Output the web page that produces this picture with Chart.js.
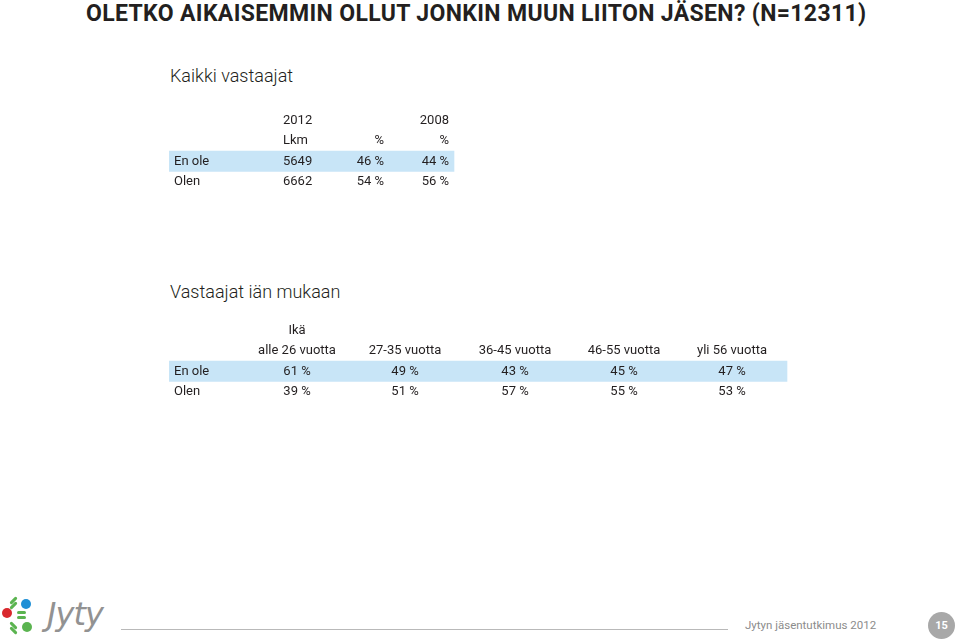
<!DOCTYPE html>
<html lang="fi">
<head>
<meta charset="utf-8">
<script src="https://cdn.jsdelivr.net/npm/chart.js@4/dist/chart.umd.min.js"></script>
<style>
  html, body { margin: 0; padding: 0; background: #fff; }
  body { width: 959px; height: 641px; position: relative; overflow: hidden; font-family: Roboto, 'Open Sans', sans-serif; color: #231f20; }
  .title { position: absolute; left: 86px; top: 0px; font-size: 23px; font-weight: 700; white-space: nowrap; letter-spacing: 0.35px; }
  .sub { position: absolute; left: 170px; font-size: 18px; font-weight: 300; }
  canvas { position: absolute; }
  .rule { position: absolute; left: 121px; top: 629px; width: 607px; height: 1px; background: #b9b9b9; }
  .foot { position: absolute; left: 745px; top: 618px; font-size: 11.5px; color: #8c8c8c; }
  .page { position: absolute; left: 928px; top: 612px; width: 27px; height: 27px; border-radius: 50%; background: #a8a8a8; color: #fff; font-size: 11px; font-weight: 700; text-align: center; line-height: 27px; }
  .dot { position: absolute; border-radius: 50%; }
  .logo { position: absolute; left: 47px; top: 595px; font-size: 32px; font-style: italic; color: #929292; font-family: 'DejaVu Sans', sans-serif; letter-spacing: -1px; }
  .bar { position: absolute; background: #5bb450; border-radius: 2px; }
</style>
</head>
<body>
<div class="title">OLETKO AIKAISEMMIN OLLUT JONKIN MUUN LIITON JÄSEN? (N=12311)</div>
<div class="sub" style="top:65px">Kaikki vastaajat</div>
<div class="sub" style="top:281px">Vastaajat iän mukaan</div>

<canvas id="allChart" width="290" height="82" style="left:169px; top:110px"></canvas>
<canvas id="ageChart" width="620" height="82" style="left:169px; top:320px"></canvas>

<!-- footer -->
<div class="dot" style="left:2px; top:608px; width:10px; height:10px; background:#d9282d"></div>
<div class="dot" style="left:21px; top:599px; width:10px; height:10px; background:#1e8fd6"></div>
<div class="dot" style="left:22px; top:622px; width:10px; height:10px; background:#5bb450"></div>
<div class="bar" style="left:9px; top:599px; width:9px; height:3px; transform:rotate(-45deg)"></div>
<div class="bar" style="left:9px; top:604px; width:9px; height:3px; transform:rotate(-45deg)"></div>
<div class="bar" style="left:9px; top:624px; width:9px; height:3px; transform:rotate(45deg)"></div>
<div class="bar" style="left:9px; top:629px; width:9px; height:3px; transform:rotate(45deg)"></div>
<div class="bar" style="left:17px; top:611px; width:9px; height:3px"></div>
<div class="bar" style="left:17px; top:616px; width:9px; height:3px"></div>
<div class="logo">Jyty</div>
<div class="rule"></div>
<div class="foot">Jytyn jäsentutkimus 2012</div>
<div class="page">15</div>

<script>
// Kaikki vastaajat
const allYears = ['2012', '', '2008'];
const allUnits = ['Lkm', '%', '%'];
const allRows = ['En ole', 'Olen'];
const allCount = [5649, 6662];
const allPct2012 = [46, 54];
const allPct2008 = [44, 56];

// Vastaajat iän mukaan
const ageTop = 'Ikä';
const ageGroups = ['alle 26 vuotta', '27-35 vuotta', '36-45 vuotta', '46-55 vuotta', 'yli 56 vuotta'];
const ageRows = ['En ole', 'Olen'];
const ageEnOle = [61, 49, 43, 45, 47];
const ageOlen = [39, 51, 57, 55, 53];

const textColor = '#231f20';
const bandColor = '#c8e5f7';
const cellFont = "13px Roboto, 'Open Sans', sans-serif";

// table layout: x positions in chart units, align per column
const allCols = [
  { x: 114, align: 'left' },
  { x: 215, align: 'right' },
  { x: 280, align: 'right' }
];
const ageCols = [128, 236, 346, 455, 563].map(x => ({ x: x, align: 'center' }));

function pct(v) { return v + ' %'; }

// draws the cell texts of a table using the chart scales
function tablePlugin(cells) {
  return {
    id: 'cells',
    afterDatasetsDraw(chart) {
      const { ctx, scales: { x, y } } = chart;
      ctx.save();
      ctx.font = cellFont;
      ctx.fillStyle = textColor;
      ctx.textBaseline = 'middle';
      cells.forEach(c => {
        ctx.textAlign = c.align;
        ctx.fillText(c.text, x.getPixelForValue(c.x), y.getPixelForValue(c.row));
      });
      ctx.restore();
    }
  };
}

function makeTable(id, width, bandEnd, rowKeys, cells) {
  new Chart(document.getElementById(id), {
    type: 'bar',
    data: {
      labels: rowKeys,
      datasets: [{
        data: [{ y: 'En ole', x: [0, bandEnd] }],
        backgroundColor: bandColor,
        barPercentage: 1,
        categoryPercentage: 1,
        borderWidth: 0
      }]
    },
    options: {
      indexAxis: 'y',
      responsive: false,
      animation: false,
      events: [],
      layout: { padding: 0 },
      scales: {
        x: { type: 'linear', min: 0, max: width, display: false },
        y: { type: 'category', offset: true, display: false }
      },
      plugins: { legend: { display: false }, tooltip: { enabled: false } }
    },
    plugins: [tablePlugin(cells)]
  });
}

// cells for table 1
const allCells = [];
allCols.forEach((col, i) => {
  allCells.push({ text: allYears[i], x: col.x, align: col.align, row: 'h1' });
  allCells.push({ text: allUnits[i], x: col.x, align: col.align, row: 'h2' });
});
allRows.forEach((r, j) => {
  allCells.push({ text: r, x: 5, align: 'left', row: r });
  allCells.push({ text: String(allCount[j]), x: allCols[0].x, align: allCols[0].align, row: r });
  allCells.push({ text: pct(allPct2012[j]), x: allCols[1].x, align: allCols[1].align, row: r });
  allCells.push({ text: pct(allPct2008[j]), x: allCols[2].x, align: allCols[2].align, row: r });
});
makeTable('allChart', 290, 285, ['h1', 'h2', 'En ole', 'Olen'], allCells);

// cells for table 2
const ageCells = [{ text: ageTop, x: ageCols[0].x, align: 'center', row: 'h1' }];
ageCols.forEach((col, i) => {
  ageCells.push({ text: ageGroups[i], x: col.x, align: col.align, row: 'h2' });
  ageCells.push({ text: pct(ageEnOle[i]), x: col.x, align: col.align, row: 'En ole' });
  ageCells.push({ text: pct(ageOlen[i]), x: col.x, align: col.align, row: 'Olen' });
});
ageRows.forEach(r => ageCells.push({ text: r, x: 5, align: 'left', row: r }));
makeTable('ageChart', 620, 618, ['h1', 'h2', 'En ole', 'Olen'], ageCells);
</script>
</body>
</html>
